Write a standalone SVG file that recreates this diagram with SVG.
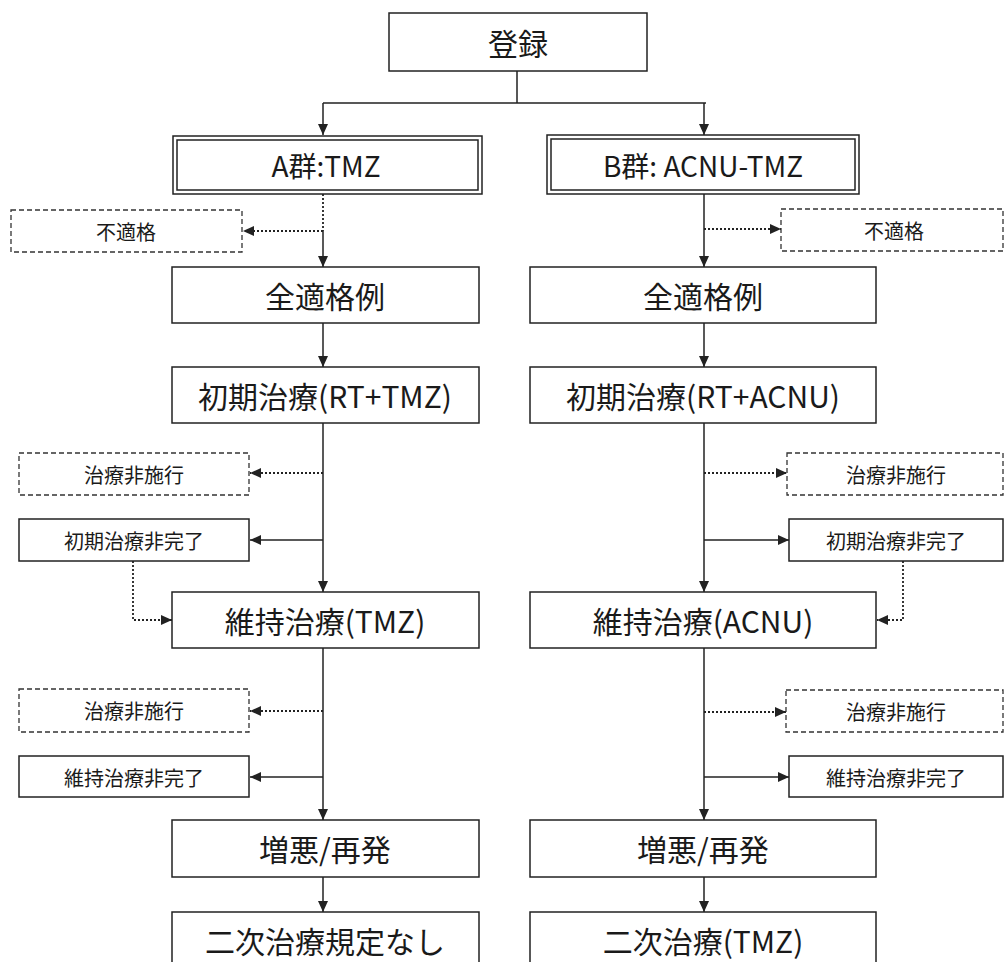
<svg xmlns="http://www.w3.org/2000/svg" width="1005" height="962" viewBox="0 0 1005 962">
<style>
.box{fill:#fff;stroke:#222;stroke-width:1.5}
.dbox{fill:#fff;stroke:#333;stroke-width:1.3;stroke-dasharray:5 3}
.t{font-family:"Noto Sans CJK JP","Noto Sans",sans-serif;fill:#1a1a1a;text-anchor:middle;dominant-baseline:central}
.big{font-size:30px}
.mid{font-size:28px}
.sm{font-size:20px}
.ln{fill:none;stroke:#222;stroke-width:1.5}
.dt{fill:none;stroke:#222;stroke-width:1.8;stroke-dasharray:2 2}
</style>
<defs>
<marker id="ah" markerWidth="11" markerHeight="10" refX="11" refY="5" orient="auto" markerUnits="userSpaceOnUse">
<path d="M0,0 L11,5 L0,10 z" fill="#222"/>
</marker>
</defs>
<rect width="1005" height="962" fill="#fff"/>

<g id="connectors">
<path class="ln" d="M517,71 V103 M323,103 H706"/>
<path class="ln" d="M323,103 V135" marker-end="url(#ah)"/>
<path class="ln" d="M704,103 V135" marker-end="url(#ah)"/>
<path class="dt" d="M323,194 V231"/>
<path class="ln" d="M323,231 V267" marker-end="url(#ah)"/>
<path class="dt" d="M323,231 H243" marker-end="url(#ah)"/>
<path class="ln" d="M704,194 V267" marker-end="url(#ah)"/>
<path class="dt" d="M704,229 H781" marker-end="url(#ah)"/>
<path class="ln" d="M323,323 V367" marker-end="url(#ah)"/>
<path class="ln" d="M704,323 V367" marker-end="url(#ah)"/>
<path class="ln" d="M323,423 V592" marker-end="url(#ah)"/>
<path class="dt" d="M323,473 H250" marker-end="url(#ah)"/>
<path class="ln" d="M323,540 H250" marker-end="url(#ah)"/>
<path class="ln" d="M704,423 V592" marker-end="url(#ah)"/>
<path class="dt" d="M704,473 H787" marker-end="url(#ah)"/>
<path class="ln" d="M704,540 H789" marker-end="url(#ah)"/>
<path class="dt" d="M133,561 V620 H172" marker-end="url(#ah)"/>
<path class="dt" d="M903,561 V620 H877" marker-end="url(#ah)"/>
<path class="ln" d="M323,648 V820" marker-end="url(#ah)"/>
<path class="dt" d="M323,711 H250" marker-end="url(#ah)"/>
<path class="ln" d="M323,777 H250" marker-end="url(#ah)"/>
<path class="ln" d="M704,648 V820" marker-end="url(#ah)"/>
<path class="dt" d="M704,712 H786" marker-end="url(#ah)"/>
<path class="ln" d="M704,777 H789" marker-end="url(#ah)"/>
<path class="ln" d="M323,877 V912" marker-end="url(#ah)"/>
<path class="ln" d="M704,877 V912" marker-end="url(#ah)"/>
</g>

<g id="touroku"><rect class="box" x="389" y="13" width="258" height="58"/><text class="t big" x="518" y="42">登録</text></g>

<g id="groupA"><rect class="box" x="173" y="136" width="309" height="58"/><rect class="box" x="177" y="140" width="301" height="50"/><text class="t mid" x="326" y="165">A群:TMZ</text></g>
<g id="groupB"><rect class="box" x="547" y="135" width="312" height="59"/><rect class="box" x="551" y="139" width="304" height="51"/><text class="t mid" x="703" y="165">B群: ACNU-TMZ</text></g>

<g id="futekikakuA"><rect class="dbox" x="11" y="210" width="231" height="42"/><text class="t sm" x="126" y="231">不適格</text></g>
<g id="futekikakuB"><rect class="dbox" x="781" y="209" width="222" height="42"/><text class="t sm" x="894" y="230">不適格</text></g>

<g id="zentekikakuA"><rect class="box" x="172" y="267" width="307" height="56"/><text class="t big" x="325" y="295">全適格例</text></g>
<g id="zentekikakuB"><rect class="box" x="530" y="267" width="346" height="56"/><text class="t big" x="703" y="295">全適格例</text></g>

<g id="shokiA"><rect class="box" x="172" y="367" width="307" height="56"/><text class="t big" x="325" y="395">初期治療(RT+TMZ)</text></g>
<g id="shokiB"><rect class="box" x="530" y="367" width="346" height="56"/><text class="t big" x="703" y="395">初期治療(RT+ACNU)</text></g>

<g id="hisekoA1"><rect class="dbox" x="19" y="453" width="230" height="42"/><text class="t sm" x="134" y="474">治療非施行</text></g>
<g id="hisekoB1"><rect class="dbox" x="787" y="453" width="216" height="42"/><text class="t sm" x="896" y="474">治療非施行</text></g>

<g id="shokiMikanA"><rect class="box" x="19" y="519" width="230" height="42"/><text class="t sm" x="134" y="540">初期治療非完了</text></g>
<g id="shokiMikanB"><rect class="box" x="789" y="519" width="214" height="42"/><text class="t sm" x="896" y="540">初期治療非完了</text></g>

<g id="ijiA"><rect class="box" x="172" y="592" width="307" height="56"/><text class="t big" x="325" y="620">維持治療(TMZ)</text></g>
<g id="ijiB"><rect class="box" x="530" y="592" width="346" height="56"/><text class="t big" x="703" y="620">維持治療(ACNU)</text></g>

<g id="hisekoA2"><rect class="dbox" x="19" y="689" width="230" height="43"/><text class="t sm" x="134" y="710">治療非施行</text></g>
<g id="hisekoB2"><rect class="dbox" x="786" y="690" width="217" height="42"/><text class="t sm" x="896" y="711">治療非施行</text></g>

<g id="ijiMikanA"><rect class="box" x="19" y="756" width="230" height="41"/><text class="t sm" x="134" y="777">維持治療非完了</text></g>
<g id="ijiMikanB"><rect class="box" x="789" y="756" width="214" height="41"/><text class="t sm" x="896" y="777">維持治療非完了</text></g>

<g id="zoakuA"><rect class="box" x="172" y="820" width="307" height="57"/><text class="t big" x="325" y="848">増悪/再発</text></g>
<g id="zoakuB"><rect class="box" x="530" y="820" width="346" height="57"/><text class="t big" x="703" y="848">増悪/再発</text></g>

<g id="nijiA"><rect class="box" x="172" y="912" width="307" height="60"/><text class="t big" x="325" y="940">二次治療規定なし</text></g>
<g id="nijiB"><rect class="box" x="530" y="912" width="346" height="60"/><text class="t big" x="703" y="940">二次治療(TMZ)</text></g>
</svg>
